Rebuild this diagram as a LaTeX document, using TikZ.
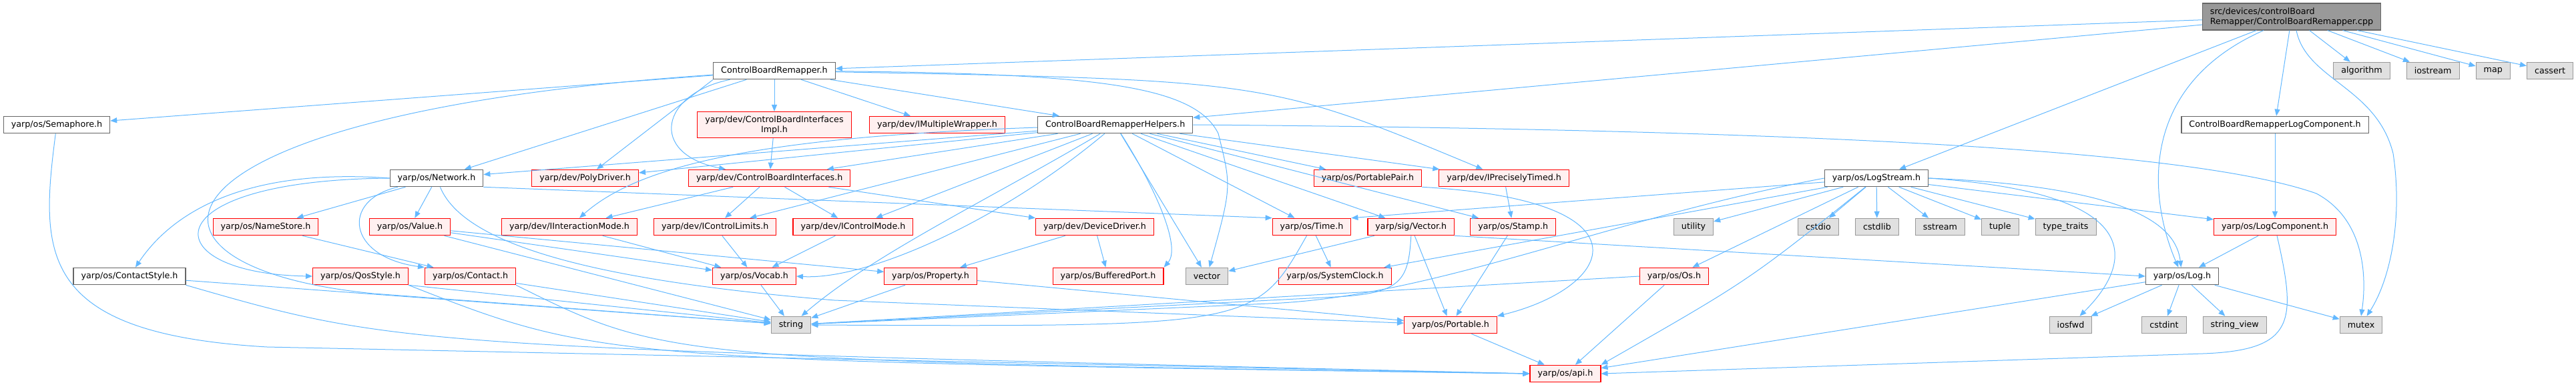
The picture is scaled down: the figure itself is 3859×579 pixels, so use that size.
\documentclass[tikz,border=0pt]{standalone}
\usepackage{fontspec}
\setmainfont{DejaVu Sans}
\usepackage{tikz}
\usetikzlibrary{arrows.meta, positioning}
\usepackage{xcolor}
\definecolor{edgeblue}{HTML}{63B8FF}
\definecolor{inclborder}{HTML}{666666}
\definecolor{truncborder}{HTML}{FF0000}
\definecolor{truncfill}{HTML}{FFF0F0}
\definecolor{sysborder}{HTML}{999999}
\definecolor{sysfill}{HTML}{E0E0E0}
\definecolor{rootfill}{HTML}{999999}
\tikzset{
  incl/.style={
    rectangle, draw=inclborder, fill=white, line width=1.1pt,
    minimum height=25.5pt, inner xsep=11.5pt, inner ysep=2pt,
    font=\fontsize{12.7}{15}\selectfont
  },
  trunc/.style={incl, draw=truncborder, fill=truncfill},
  sysinc/.style={incl, draw=sysborder, fill=sysfill},
  rootfile/.style={incl, fill=rootfill, align=left, minimum height=40pt},
  dep/.style={-{Triangle[length=10pt,width=8pt]}, draw=edgeblue, line width=1pt}
}

\begin{document}
\begin{tikzpicture}[x=1pt, y=-1pt]
  \useasboundingbox (0,0) rectangle (3859,579);

  \node[rootfile] (main) at (3433,25) {src/devices/controlBoard\\Remapper/ControlBoardRemapper.cpp};

  \node[incl] (cbr) at (1160,106) {ControlBoardRemapper.h};
  \node[sysinc] (algo) at (3538,106) {algorithm};
  \node[sysinc, right=24pt of algo] (iostr) {iostream};
  \node[sysinc, right=24pt of iostr] (map) {map};
  \node[sysinc, right=24pt of map] (cassert) {cassert};

  \node[incl] (sema) at (85,187) {yarp/os/Semaphore.h};
  \node[trunc, align=center, minimum height=39pt] (impl) at (1160,187) {yarp/dev/ControlBoardInterfaces\\Impl.h};
  \node[trunc] (imw) at (1404,187) {yarp/dev/IMultipleWrapper.h};
  \node[incl, right=48pt of imw] (helpers) {ControlBoardRemapperHelpers.h};
  \node[incl] (cbrlog) at (3408,187) {ControlBoardRemapperLogComponent.h};

  \node[incl] (network) at (654,267) {yarp/os/Network.h};
  \node[trunc, right=72pt of network] (poly) {yarp/dev/PolyDriver.h};
  \node[trunc, right=74pt of poly] (cbi) {yarp/dev/ControlBoardInterfaces.h};
  \node[trunc] (ppair) at (2049,267) {yarp/os/PortablePair.h};
  \node[trunc, right=25pt of ppair] (iprec) {yarp/dev/IPreciselyTimed.h};
  \node[incl] (logstream) at (2811,267) {yarp/os/LogStream.h};

  \node[trunc] (namestore) at (398,340) {yarp/os/NameStore.h};
  \node[trunc] (value) at (614,340) {yarp/os/Value.h};
  \node[trunc] (iimode) at (853,340) {yarp/dev/IInteractionMode.h};
  \node[trunc, right=24pt of iimode] (iclim) {yarp/dev/IControlLimits.h};
  \node[trunc, right=24pt of iclim] (icmode) {yarp/dev/IControlMode.h};
  \node[trunc] (devdrv) at (1640,340) {yarp/dev/DeviceDriver.h};
  \node[trunc] (time) at (1965,340) {yarp/os/Time.h};
  \node[trunc, right=24pt of time] (sigvec) {yarp/sig/Vector.h};
  \node[trunc, right=23pt of sigvec] (stamp) {yarp/os/Stamp.h};
  \node[sysinc] (utility) at (2537,340) {utility};
  \node[sysinc] (cstdio) at (2724,340) {cstdio};
  \node[sysinc, right=24pt of cstdio] (cstdlib) {cstdlib};
  \node[sysinc, right=24pt of cstdlib] (sstream) {sstream};
  \node[sysinc, right=24pt of sstream] (tuple) {tuple};
  \node[sysinc, right=24pt of tuple] (typetr) {type\_traits};
  \node[trunc] (logcomp) at (3408,340) {yarp/os/LogComponent.h};

  \node[incl] (cstyle) at (194,414) {yarp/os/ContactStyle.h};
  \node[trunc] (qos) at (540,414) {yarp/os/QosStyle.h};
  \node[trunc, right=24pt of qos] (contact) {yarp/os/Contact.h};
  \node[trunc] (vocab) at (1130,414) {yarp/os/Vocab.h};
  \node[trunc] (property) at (1394,414) {yarp/os/Property.h};
  \node[trunc] (bufport) at (1660,414) {yarp/os/BufferedPort.h};
  \node[sysinc] (stdvec) at (1808,414) {vector};
  \node[trunc] (sysclock) at (2000,414) {yarp/os/SystemClock.h};
  \node[trunc] (os) at (2508,414) {yarp/os/Os.h};
  \node[incl] (log) at (3269,414) {yarp/os/Log.h};

  \node[sysinc] (string) at (1185,487) {string};
  \node[trunc] (portable) at (2173,487) {yarp/os/Portable.h};
  \node[sysinc] (iosfwd) at (3102,487) {iosfwd};
  \node[sysinc] (cstdint) at (3242,487) {cstdint};
  \node[sysinc, right=24pt of cstdint] (strview) {string\_view};
  \node[sysinc] (mutex) at (3537,487) {mutex};

  \node[trunc] (api) at (2345,560) {yarp/os/api.h};

  \foreach \t in {cbr,helpers,cbrlog,logstream,algo,iostr,map,cassert}
    \draw[dep] (main) -- (\t);
  \draw[dep] ([xshift=-42pt]main.south) .. controls (3200,130) and (3220,300) .. (log);
  \draw[dep] ([xshift=7pt]main.south) .. controls (3455,120) and (3560,130) .. (3585,230)
    .. controls (3600,330) and (3580,420) .. (mutex);

  \foreach \t in {sema,network,impl,imw,helpers}
    \draw[dep] (cbr) -- (\t);
  \draw[dep] (cbr.south west) -- (poly);
  \draw[dep] (cbr) .. controls (990,140) and (970,230) .. (cbi);
  \draw[dep] (cbr) .. controls (1900,120) .. (iprec);
  \draw[dep] (cbr) .. controls (1650,110) and (1790,130) .. (1825,200) .. controls (1845,280) .. (stdvec);
  \draw[dep] (cbr) .. controls (200,170) and (150,400) .. (560,440) -- (string);

  \foreach \t in {network,poly,cbi,iclim,icmode,stdvec,time,sigvec,stamp,ppair,iprec}
    \draw[dep] (helpers) -- (\t);
  \draw[dep] (helpers) .. controls (1150,205) and (960,245) .. (iimode);
  \draw[dep] (helpers) .. controls (1500,330) and (1300,420) .. (vocab.east);
  \draw[dep] (helpers) .. controls (1480,300) and (1310,380) .. (string);
  \draw[dep] (helpers) .. controls (1730,280) and (1770,370) .. (bufport.north east);
  \draw[dep] (helpers.east) .. controls (2800,195) and (3300,230) .. (3470,290)
    .. controls (3545,330) and (3545,420) .. (mutex.north);

  \draw[dep] (impl) -- (cbi);
  \foreach \t in {iimode,iclim,icmode,devdrv}
    \draw[dep] (cbi) -- (\t);

  \foreach \t in {namestore,value}
    \draw[dep] (network) -- (\t);
  \draw[dep] (network.west) .. controls (350,250) and (250,330) .. (cstyle);
  \draw[dep] (network.west) .. controls (220,270) and (230,410) .. (qos.west);
  \draw[dep] (network) .. controls (510,300) and (520,385) .. (contact.north west);
  \draw[dep] (network) .. controls (700,380) and (950,425) .. (1250,450) -- (portable);
  \draw[dep] (network.south east) -- (time.north west);

  \draw[dep] (namestore) -- (contact);
  \foreach \t in {vocab,property,string}
    \draw[dep] (value) -- (\t);

  \draw[dep] (cstyle) -- (string);
  \draw[dep] (cstyle.south east) .. controls (600,520) .. (api.west);
  \draw[dep] (qos.south east) -- (string);
  \draw[dep] (qos.south east) .. controls (900,540) .. (api.west);
  \draw[dep] (contact) -- (string);
  \draw[dep] (contact.south east) .. controls (1000,540) .. (api.west);

  \draw[dep] (vocab) -- (string);
  \foreach \s in {iimode,iclim,icmode}
    \draw[dep] (\s) -- (vocab);
  \foreach \t in {property,bufport}
    \draw[dep] (devdrv) -- (\t);
  \draw[dep] (property) -- (string);
  \draw[dep] (property) -- (portable);

  \draw[dep] (time) -- (sysclock);
  \draw[dep] (time) .. controls (1880,490) .. (string.east);
  \draw[dep] (sigvec) -- (portable);
  \draw[dep] (sigvec) -- (stdvec);
  \draw[dep] (sigvec.south) .. controls (2110,420) and (2100,440) .. (2000,445) -- (string);
  \draw[dep] (sigvec.south east) -- (log.west);
  \draw[dep] (stamp) -- (portable);
  \draw[dep] (iprec) -- (stamp);
  \draw[dep] (ppair.south east) .. controls (2480,300) and (2420,430) .. (portable.north east);
  \draw[dep] (portable) -- (api);
  \draw[dep] (os) -- (api);
  \draw[dep] (os.west) -- (string);
  \draw[dep] (sema) .. controls (60,380) and (55,500) .. (400,520) -- (api.west);

  \foreach \t in {utility,cstdio,cstdlib,sstream,tuple,typetr,logcomp,os,sysclock}
    \draw[dep] (logstream) -- (\t);
  \draw[dep] (logstream) -- (time.north east);
  \draw[dep] (logstream) .. controls (2620,420) .. (api.north east);
  \draw[dep] (logstream.west) .. controls (2400,330) and (2150,445) .. (1900,455) -- (string);
  \draw[dep] (logstream.east) .. controls (3230,290) and (3190,400) .. (iosfwd);
  \draw[dep] (logstream.east) .. controls (3200,280) and (3260,340) .. (log);

  \foreach \t in {iosfwd,cstdint,strview,mutex,api}
    \draw[dep] (log) -- (\t);
  \draw[dep] (logcomp) -- (log);
  \draw[dep] (logcomp) .. controls (3440,480) and (3440,525) .. (3300,530) -- (api.east);
  \draw[dep] (cbrlog) -- (logcomp);
\end{tikzpicture}
\end{document}
